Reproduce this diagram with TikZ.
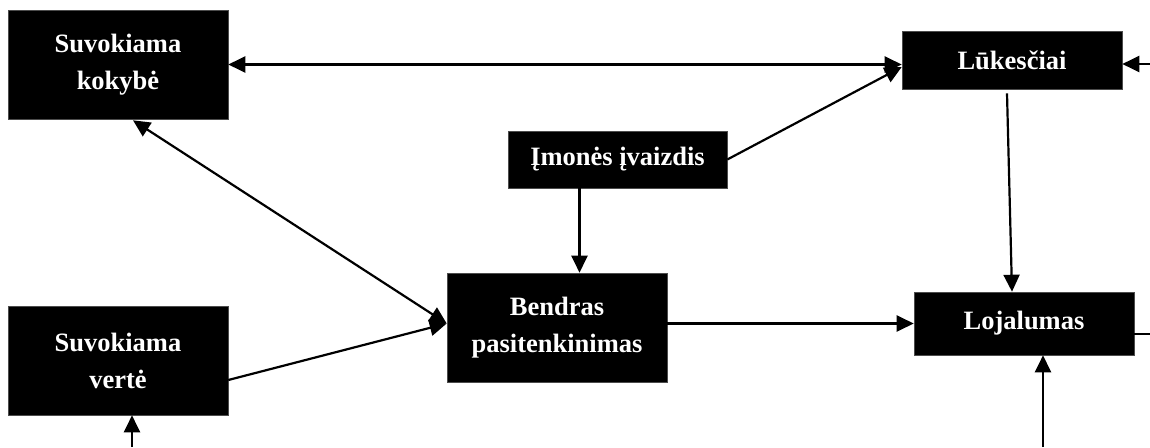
\documentclass[tikz,border=0pt]{standalone}
\usepackage{fontspec}
\setmainfont{Liberation Serif}
\usetikzlibrary{arrows.meta}
\begin{document}
\begin{tikzpicture}[x=1pt,y=-1pt,
  blk/.style={fill=black,draw=black!70,line width=0.6pt,text=white,align=center,
    font=\fontsize{26.5}{37}\selectfont\bfseries,inner sep=0pt},
  arr/.style={line width=2.2pt,-{Triangle[length=17pt,width=16pt]}},
  darr/.style={line width=2.2pt,{Triangle[length=17pt,width=16pt]}-{Triangle[length=17pt,width=16pt]}},
  ln/.style={line width=2.2pt}]
\useasboundingbox (0,0) rectangle (1150,447);
\node[blk,minimum width=220pt,minimum height=109pt] (kok) at (118,64.5) {Suvokiama\\kokybė};
\node[blk,minimum width=220pt,minimum height=58pt] (luk) at (1012,60) {Lūkesčiai};
\node[blk,minimum width=220pt,minimum height=63pt] (loj) at (1024,323.5) {Lojalumas};
\node[blk,minimum width=220pt,minimum height=109pt] (ver) at (118,360.5) {Suvokiama\\vertė};
\node[blk,minimum width=219pt,minimum height=57pt] (imo) at (617.5,159.5) {Įmonės įvaizdis};
\node[blk,minimum width=220pt,minimum height=109pt] (ben) at (557,327.5) {Bendras\\pasitenkinimas};
\coordinate (r1) at (1150,64);
\coordinate (r2) at (1150,334);
\coordinate (b1) at (1043,447);
\coordinate (b2) at (132,447);
\draw[darr] (kok.east) -- (kok.east -| luk.west);
\draw[arr] (imo.east) -- ([yshift=-7pt]luk.west);
\draw[arr] (r1) -- (luk.east |- r1);
\draw[arr] ([xshift=-5pt,yshift=-4pt]luk.south) -- ([xshift=-12pt]loj.north);
\draw[arr] ([xshift=-38pt]imo.south) -- ([xshift=-38pt]imo.south |- ben.north);
\draw[darr] ([xshift=15pt,yshift=-1pt]kok.south) -- ([yshift=4pt]ben.west);
\draw[arr] ([yshift=-19.5pt]ver.east) -- ([yshift=4pt]ben.west);
\draw[arr] (loj.west -| ben.east) -- (loj.west);
\draw[ln] ([yshift=-10.5pt]loj.east) -- (r2);
\draw[arr] (b1) -- (b1 |- loj.south);
\draw[arr] (b2) -- (b2 |- ver.south);
\end{tikzpicture}
\end{document}
